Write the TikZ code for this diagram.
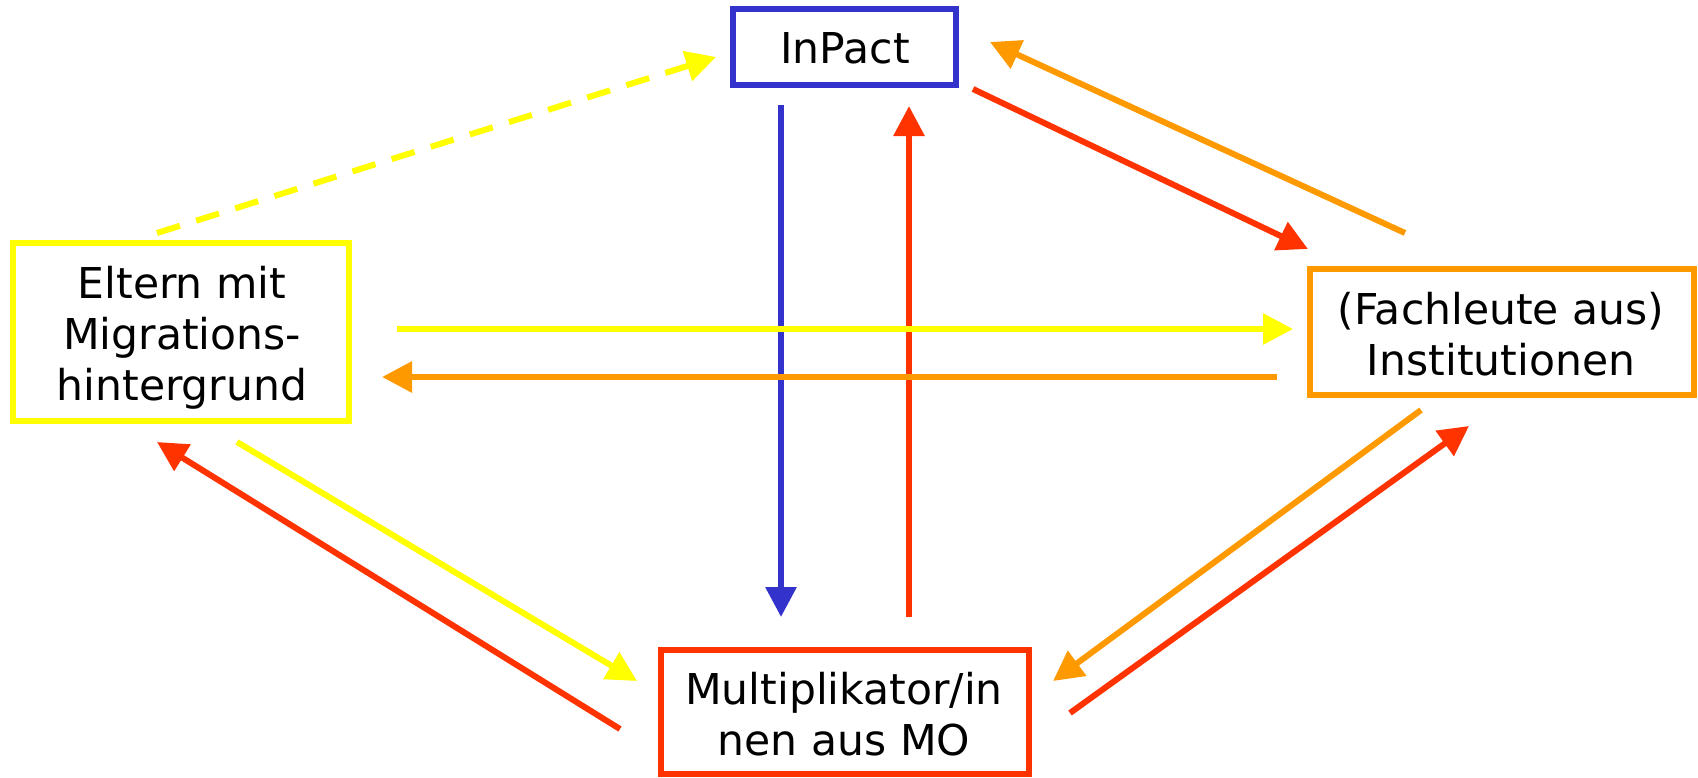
\documentclass[tikz,border=0pt]{standalone}
\usepackage{fontspec}
\setmainfont{DejaVu Sans}
\usetikzlibrary{arrows.meta}
\definecolor{cblue}{HTML}{3333CC}
\definecolor{cred}{HTML}{FF3300}
\definecolor{corange}{HTML}{FF9900}
\definecolor{cyellow}{HTML}{FFFF00}
\begin{document}
\begin{tikzpicture}[x=1pt,y=-1pt,
  box/.style={draw, rectangle, line width=6pt, inner sep=0pt},
  lbl/.style={font=\fontsize{42.5}{51}\selectfont, align=center, anchor=base, inner sep=0pt, text=black},
  conn/.style={line width=6pt, -{Triangle[length=30pt,width=30pt]}},
  dashconn/.style={conn, dash pattern=on 24pt off 17pt}]
\fill[white] (0,0) rectangle (1698,777);
\useasboundingbox (0,0) rectangle (1698,777);

% boxes
\node[box, draw=cblue, minimum width=223pt, minimum height=76pt] (inpact) at (844.5,47) {};
\node[box, draw=cyellow, minimum width=336pt, minimum height=178pt] (eltern) at (181,332) {};
\node[box, draw=corange, minimum width=384pt, minimum height=126pt] (fach) at (1502,332) {};
\node[box, draw=cred, minimum width=368pt, minimum height=124pt] (multi) at (845,712) {};

% texts (anchored at the baseline of the last line)
\node[lbl] (inpacttext) at (845,63) {InPact};
\node[lbl] (elterntext) at (182,400) {Eltern mit\\Migrations-\\hintergrund};
\node[lbl] (fachtext) at (1501,375) {(Fachleute aus)\\Institutionen};
\node[lbl] (multitext) at (844,755) {Multiplikator/in\\nen aus MO};

% connector end points
\coordinate (d1) at (157,233);  \coordinate (d2) at (716,57);
\coordinate (b1) at (781,105);  \coordinate (b2) at (781,617);
\coordinate (ru1) at (909,617); \coordinate (ru2) at (909,106);
\coordinate (rif1) at (973,89); \coordinate (rif2) at (1308,249);
\coordinate (ofi1) at (1405,233); \coordinate (ofi2) at (990,42);
\coordinate (yef1) at (397,329); \coordinate (yef2) at (1293,329);
\coordinate (ofe1) at (1277,377); \coordinate (ofe2) at (382,377);
\coordinate (rme1) at (620,729); \coordinate (rme2) at (157,442);
\coordinate (yem1) at (237,442); \coordinate (yem2) at (637,681);
\coordinate (ofm1) at (1421,410); \coordinate (ofm2) at (1053,681);
\coordinate (rmf1) at (1070,713); \coordinate (rmf2) at (1469,426);

% connectors
\draw[dashconn, cyellow] (d1) -- (d2);
\draw[conn, cblue] (b1) -- (b2);
\draw[conn, cred] (ru1) -- (ru2);
\draw[conn, cred] (rif1) -- (rif2);
\draw[conn, corange] (ofi1) -- (ofi2);
\draw[conn, cyellow] (yef1) -- (yef2);
\draw[conn, corange] (ofe1) -- (ofe2);
\draw[conn, cred] (rme1) -- (rme2);
\draw[conn, cyellow] (yem1) -- (yem2);
\draw[conn, corange] (ofm1) -- (ofm2);
\draw[conn, cred] (rmf1) -- (rmf2);
\end{tikzpicture}
\end{document}
